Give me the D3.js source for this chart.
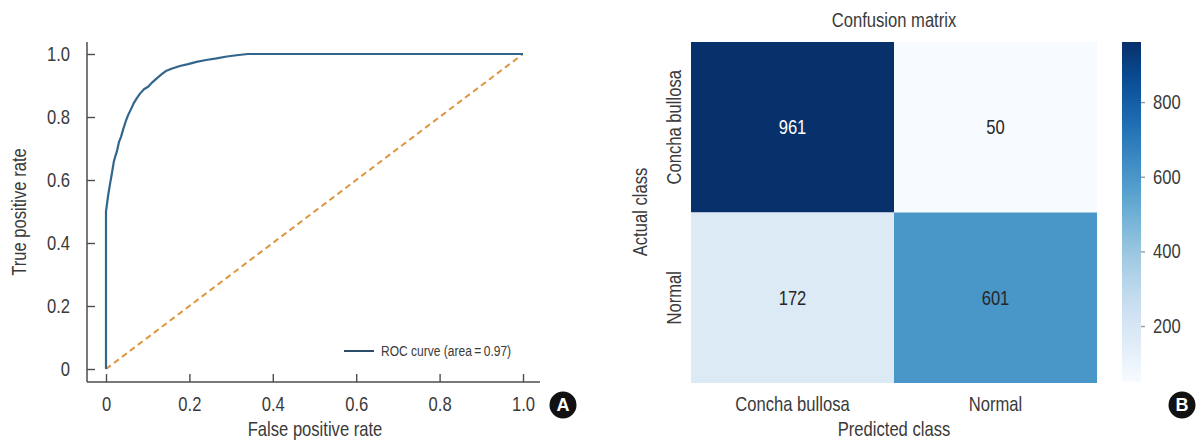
<!DOCTYPE html>
<html>
<head>
<meta charset="utf-8">
<script src="https://cdn.jsdelivr.net/npm/d3@7"></script>
<style>
  html, body { margin: 0; padding: 0; background: #fff; }
  svg { display: block; }
  text { font-family: "Liberation Sans", Arial, sans-serif; fill: #3a3a3a; }
</style>
</head>
<body>
<svg id="chart" width="1197" height="442"></svg>
<script>
// ROC curve points (false positive rate, true positive rate)
const rocFpr = [0, 0, 0.002, 0.005, 0.010, 0.014, 0.019, 0.022, 0.026, 0.031, 0.036, 0.041, 0.047, 0.053,
  0.060, 0.067, 0.074, 0.082, 0.091, 0.101, 0.111, 0.121, 0.133, 0.145, 0.157, 0.177, 0.197, 0.217,
  0.240, 0.265, 0.290, 0.313, 0.340, 1.0];
const rocTpr = [0, 0.50, 0.52, 0.55, 0.59, 0.62, 0.66, 0.674, 0.69, 0.72, 0.737, 0.76, 0.785, 0.806,
  0.825, 0.845, 0.86, 0.875, 0.888, 0.896, 0.91, 0.922, 0.935, 0.947, 0.953, 0.962, 0.968, 0.975,
  0.981, 0.986, 0.992, 0.996, 1.0, 1.0];
const rocTicks = [0, 0.2, 0.4, 0.6, 0.8, 1.0];
const rocArea = 0.97;

// Confusion matrix
const classes = ["Concha bullosa", "Normal"];
const matrixValues = [[961, 50], [172, 601]];
const colorbarTicks = [200, 400, 600, 800];

const SX = 0.83;      // horizontal squeeze for a condensed look
const FS = 20;        // base font size

const svg = d3.select("#chart");
const fmt = d => d === 0 ? "0" : d3.format(".1f")(d);

// text placed at (x, y), optionally rotated, squeezed horizontally
function label(parent, x, y, str, opts = {}) {
  const rot = opts.rotate ? ` rotate(${opts.rotate})` : "";
  return parent.append("text")
    .attr("transform", `translate(${x},${y})${rot} scale(${SX},1)`)
    .attr("text-anchor", opts.anchor || "middle")
    .attr("font-size", opts.size || FS)
    .attr("dy", opts.dy || null)
    .style("fill", opts.fill || null)
    .text(str);
}
function styleTicks(g, lineColor) {
  g.select(".domain").remove();
  g.selectAll(".tick line").attr("stroke", lineColor).attr("stroke-width", 1.4);
  g.selectAll(".tick text").each(function () {
    const t = d3.select(this);
    const x = +t.attr("x") || 0;
    t.attr("x", x / SX).attr("transform", `scale(${SX},1)`)
      .attr("font-size", FS).attr("fill", "#3a3a3a")
      .attr("font-family", "'Liberation Sans', Arial, sans-serif");
  });
}

// ---------- Panel A: ROC curve ----------
const A = svg.append("g");
const x = d3.scaleLinear().domain([0, 1]).range([106, 523]);
const y = d3.scaleLinear().domain([0, 1]).range([369, 54]);

styleTicks(A.append("g").attr("transform", "translate(87,0)")
  .call(d3.axisLeft(y).tickValues(rocTicks).tickFormat(fmt).tickSize(-8).tickPadding(17)), "#4d4d4d");
styleTicks(A.append("g").attr("transform", "translate(0,382)")
  .call(d3.axisBottom(x).tickValues(rocTicks).tickFormat(fmt).tickSize(-8).tickPadding(15)), "#4d4d4d");

// spines
A.append("line").attr("x1", 87).attr("x2", 87).attr("y1", 42).attr("y2", 382)
  .attr("stroke", "#4d4d4d").attr("stroke-width", 1.5);
A.append("line").attr("x1", 87).attr("x2", 540).attr("y1", 382).attr("y2", 382)
  .attr("stroke", "#4d4d4d").attr("stroke-width", 1.5);

// chance line
A.append("line").attr("x1", x(0)).attr("y1", y(0)).attr("x2", x(1)).attr("y2", y(1))
  .attr("stroke", "#e0953f").attr("stroke-width", 2).attr("stroke-dasharray", "6,4");

// ROC curve
const rocPts = rocFpr.map((f, i) => [f, rocTpr[i]]);
A.append("path").datum(rocPts)
  .attr("fill", "none").attr("stroke", "#33668c").attr("stroke-width", 2.2)
  .attr("stroke-linejoin", "round")
  .attr("d", d3.line().x(d => x(d[0])).y(d => y(d[1])));

// legend
A.append("line").attr("x1", 344).attr("x2", 374).attr("y1", 351).attr("y2", 351)
  .attr("stroke", "#2c4c69").attr("stroke-width", 2);
label(A, 381, 356, `ROC curve (area\u2009=\u20090${rocArea.toFixed(2).slice(1)})`, { anchor: "start", size: 14.5 });

// axis titles
label(A, 315, 436, "False positive rate");
label(A, 26, 212, "True positive rate", { rotate: -90 });

// ---------- Panel B: confusion matrix ----------
const B = svg.append("g");
const cx = d3.scaleBand().domain(classes).range([691, 1097]);
const cy = d3.scaleBand().domain(classes).range([42, 383]);
const vmin = d3.min(matrixValues.flat()), vmax = d3.max(matrixValues.flat());
const color = d3.scaleSequential(d3.interpolateBlues).domain([vmin, vmax]);

const cells = [];
matrixValues.forEach((row, i) => row.forEach((v, j) => cells.push({ actual: classes[i], pred: classes[j], v })));

B.selectAll("rect.cell").data(cells).join("rect").attr("class", "cell")
  .attr("x", d => cx(d.pred)).attr("y", d => cy(d.actual))
  .attr("width", cx.bandwidth()).attr("height", cy.bandwidth())
  .attr("fill", d => color(d.v));

cells.forEach(d => {
  label(B, cx(d.pred) + cx.bandwidth() / 2, cy(d.actual) + cy.bandwidth() / 2, d.v,
    { dy: "0.36em", fill: (d.v - vmin) / (vmax - vmin) > 0.7 ? "#fff" : "#262626" });
});

// class labels
classes.forEach(c => {
  label(B, cx(c) + cx.bandwidth() / 2, 411, c);
  label(B, 681, cy(c) + cy.bandwidth() / 2, c, { rotate: -90 });
});

label(B, 894, 436, "Predicted class");
label(B, 647, 212, "Actual class", { rotate: -90 });
label(B, 894, 27, "Confusion matrix");

// colorbar
const cbY = d3.scaleLinear().domain([vmin, vmax]).range([382, 42]);
const grad = svg.append("defs").append("linearGradient").attr("id", "cbgrad")
  .attr("x1", 0).attr("y1", 1).attr("x2", 0).attr("y2", 0);
d3.range(0, 1.0001, 0.05).forEach(t => {
  grad.append("stop").attr("offset", t).attr("stop-color", color(vmin + t * (vmax - vmin)));
});
B.append("rect").attr("x", 1122).attr("y", 42).attr("width", 19).attr("height", 340)
  .attr("fill", "url(#cbgrad)");
styleTicks(B.append("g").attr("transform", "translate(1141,0)")
  .call(d3.axisRight(cbY).tickValues(colorbarTicks).tickSize(4).tickPadding(8)), "#999");

// panel badges
const badges = [{ label: "A", x: 563, y: 405 }, { label: "B", x: 1182, y: 405 }];
const bg = svg.selectAll("g.badge").data(badges).join("g").attr("class", "badge")
  .attr("transform", d => `translate(${d.x},${d.y})`);
bg.append("circle").attr("r", 13.5).attr("fill", "#111");
bg.append("text").attr("text-anchor", "middle").attr("dy", "0.36em").attr("font-size", 18)
  .attr("font-weight", "bold").style("fill", "#fff").text(d => d.label);
</script>
</body>
</html>
